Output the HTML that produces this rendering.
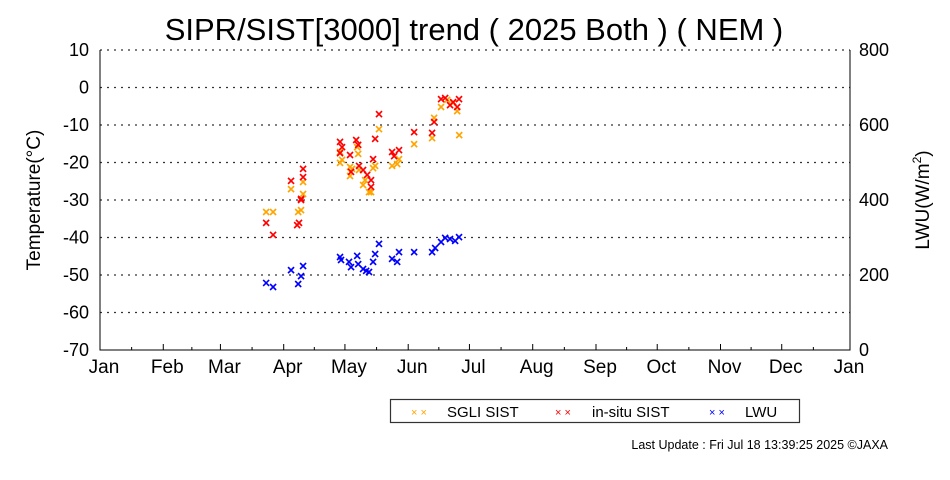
<!DOCTYPE html>
<html><head><meta charset="utf-8"><style>
body{margin:0;background:#fff;}
svg{display:block;font-family:"Liberation Sans",sans-serif;}
</style></head><body>
<svg id="chart" width="950" height="480" viewBox="0 0 950 480">
<text x="474" y="40" font-size="31" text-anchor="middle">SIPR/SIST[3000] trend ( 2025 Both ) ( NEM )</text>
<g id="grid"></g><g id="axes"></g><g id="marks"></g>
<text transform="translate(40,200) rotate(-90)" font-size="19" text-anchor="middle">Temperature(°C)</text>
<text transform="translate(929,200) rotate(-90)" font-size="19" text-anchor="middle">LWU(W/m<tspan font-size="12" dy="-8">2</tspan><tspan dy="8">)</tspan></text>
<g>
<rect x="390.5" y="399.5" width="409" height="23" fill="#fff" stroke="#333" stroke-width="1.2"/>
<text x="411" y="416" font-size="11" fill="orange">× ×</text>
<text x="447" y="417" font-size="15">SGLI SIST</text>
<text x="555" y="416" font-size="11" fill="red">× ×</text>
<text x="592" y="417" font-size="15">in-situ SIST</text>
<text x="709" y="416" font-size="11" fill="blue">× ×</text>
<text x="745" y="417" font-size="15">LWU</text>
</g>
<text x="888" y="449" font-size="12.5" text-anchor="end">Last Update : Fri Jul 18 13:39:25 2025  ©JAXA</text>
</svg>
<script>
const months=["Jan","Feb","Mar","Apr","May","Jun","Jul","Aug","Sep","Oct","Nov","Dec","Jan"];
const monthStart=[0,31,59,90,120,151,181,212,243,273,304,334,365];
const tempTicks=[10,0,-10,-20,-30,-40,-50,-60,-70];
const lwuTicks=[800,600,400,200,0];
const sgliDays=[93.6,99.5,99.5,117.6,117.6,118.6,122.5,122.5,123.5,126,126.5,126.9,128.9,129.9,131.8,132.8,133.8,134.8,136.7,143.1,145.6,146.5,153.9,162.7,163.7,167.1,170.1,173,175,176,81.4,84.8,97.1,98.5];
const sgliTemp=[-27.1,-25.2,-28.4,-17.2,-20.1,-19.3,-21.2,-23.6,-21.7,-15.9,-17.7,-22,-26,-24.7,-27.9,-27.9,-21.5,-20.9,-11.1,-20.9,-20.4,-19.1,-15.1,-13.5,-8.1,-5.2,-3.3,-4.1,-6.3,-12.7,-33.2,-33.2,-33.2,-32.7];
const situDays=[93.6,99.5,99.5,98.5,117.6,118.6,117.6,122.5,123,125.5,126.5,126.9,128.9,130.9,132.8,132.8,133.8,134.8,136.7,143.1,144.1,146.5,153.9,162.7,163.7,167.1,169.1,171.5,173,175.9,175,81.4,84.8,96.6,97.5,98.5];
const situTemp=[-24.9,-21.7,-23.9,-29.7,-14.5,-15.9,-17.5,-18,-22.5,-14,-15.3,-20.9,-22,-23.3,-24.7,-26.5,-19.1,-13.7,-7.1,-17.2,-18.3,-16.7,-11.9,-12.1,-9.2,-3.1,-2.8,-4.7,-3.9,-3.1,-5.2,-36.1,-39.3,-36.7,-36.1,-30];
const lwuDays=[81.4,84.8,93.6,98.5,99.5,97.1,117.6,118.1,122,123,126,126.5,128.9,130.4,131.8,133.8,134.8,136.7,143.1,145.6,146.5,153.9,162.7,164.2,167.1,169.1,171.5,174,175.9];
const lwuVals=[178.7,168,213,197,224,176,248,240,235,221,251,229,216,211,208,235,256,283,243,235,261,261,261,272,288,299,296,291,301];
const X0=100,PW=745,Y0=50,PH=300;
const xs=d=>X0+d/365*PW;
const yT=t=>Y0+(10-t)/80*PH;
const yL=v=>Y0+(800-v)/800*PH;
const NS="http://www.w3.org/2000/svg";
function mk(tag,attrs,parent,txt){const e=document.createElementNS(NS,tag);for(const k in attrs)e.setAttribute(k,attrs[k]);if(txt!==undefined)e.textContent=txt;parent.appendChild(e);return e;}
const grid=document.getElementById('grid'),axes=document.getElementById('axes'),marks=document.getElementById('marks');
tempTicks.forEach(t=>{
  if(t>-70){const l=mk('line',{x1:X0,x2:X0+PW+5,y1:yT(t),y2:yT(t),stroke:'#333','stroke-dasharray':'2,5','stroke-width':1.2},grid);
  
  }
  const tx=mk('text',{x:X0-11,y:yT(t)+6,'font-size':18,'text-anchor':'end'},axes,String(t));
  
  
});
lwuTicks.forEach(v=>{
  const tx=mk('text',{x:X0+PW+14,y:yL(v)+6,'font-size':18},axes,String(v));
  
  
});
mk('path',{d:`M${X0},${Y0} V${Y0+PH} H${X0+PW+5} V${Y0}`,fill:'none',stroke:'#000','stroke-width':1},axes);
months.forEach((m,i)=>{
  const x=xs(monthStart[i]);
  if(i>0&&i<12)mk('line',{x1:x,x2:x,y1:Y0+PH,y2:Y0+PH-6,stroke:'#000'},axes);
  if(i<12){const xm=xs((monthStart[i]+monthStart[i+1])/2);mk('line',{x1:xm,x2:xm,y1:Y0+PH,y2:Y0+PH-3,stroke:'#000'},axes);}
  const tx=mk('text',{x:x+4,y:373,'font-size':19,'text-anchor':'middle'},axes,m);
  
  
});
function cross(x,y,c,name){
  const g=mk('path',{d:`M${x-3},${y-3}L${x+3},${y+3}M${x-3},${y+3}L${x+3},${y-3}`,stroke:c,'stroke-width':1.6},marks);
  
  
}
sgliDays.forEach((d,i)=>cross(xs(d),yT(sgliTemp[i]),'orange','sgli-point'));
situDays.forEach((d,i)=>cross(xs(d),yT(situTemp[i]),'red','insitu-point'));
lwuDays.forEach((d,i)=>cross(xs(d),yL(lwuVals[i]),'blue','lwu-point'));
</script>
</body></html>
